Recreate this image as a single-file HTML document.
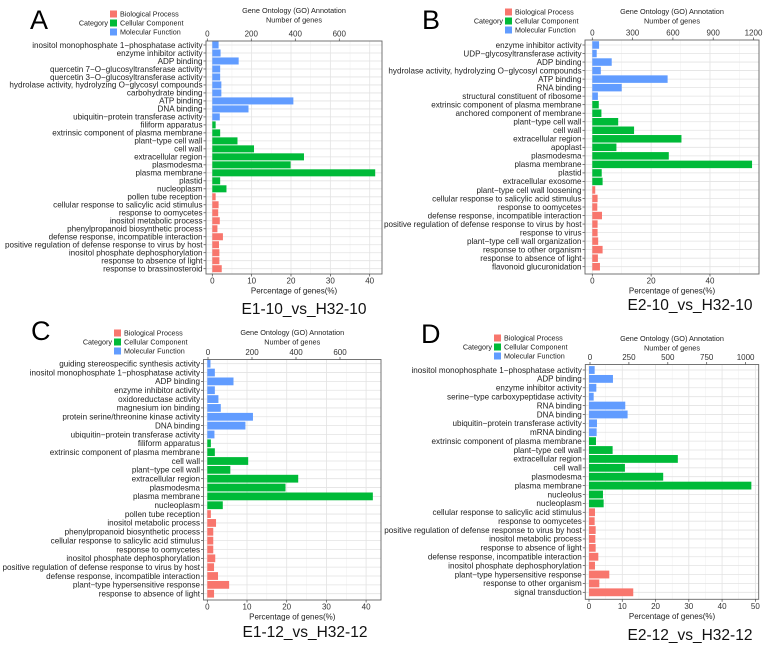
<!DOCTYPE html>
<html><head><meta charset="utf-8">
<style>
html,body{margin:0;padding:0;background:#fff;}
svg{display:block;font-family:"Liberation Sans",Arial,sans-serif;}
</style></head>
<body>
<svg id="fig" width="782" height="649" viewBox="0 0 782 649" xmlns="http://www.w3.org/2000/svg"></svg>
<script>
// ---------- data ----------
const catsA = ["inositol monophosphate 1\u2212phosphatase activity","enzyme inhibitor activity","ADP binding","quercetin 7\u2212O\u2212glucosyltransferase activity","quercetin 3\u2212O\u2212glucosyltransferase activity","hydrolase activity, hydrolyzing O\u2212glycosyl compounds","carbohydrate binding","ATP binding","DNA binding","ubiquitin\u2212protein transferase activity","filiform apparatus","extrinsic component of plasma membrane","plant\u2212type cell wall","cell wall","extracellular region","plasmodesma","plasma membrane","plastid","nucleoplasm","pollen tube reception","cellular response to salicylic acid stimulus","response to oomycetes","inositol metabolic process","phenylpropanoid biosynthetic process","defense response, incompatible interaction","positive regulation of defense response to virus by host","inositol phosphate dephosphorylation","response to absence of light","response to brassinosteroid"];
const valsA = [1.6,2.1,6.7,2,2,2.3,2.3,20.6,9.2,1.9,0.85,2,6.4,10.6,23.3,19.9,41.4,2,3.6,0.85,1.6,1.5,1.9,1.3,2.7,1.7,1.8,1.8,2.4];
const groupA = "MMMMMMMMMMCCCCCCCCCBBBBBBBBBB";

const catsB = ["enzyme inhibitor activity","UDP\u2212glycosyltransferase activity","ADP binding","hydrolase activity, hydrolyzing O\u2212glycosyl compounds","ATP binding","RNA binding","structural constituent of ribosome","extrinsic component of plasma membrane","anchored component of membrane","plant\u2212type cell wall","cell wall","extracellular region","apoplast","plasmodesma","plasma membrane","plastid","extracellular exosome","plant\u2212type cell wall loosening","cellular response to salicylic acid stimulus","response to oomycetes","defense response, incompatible interaction","positive regulation of defense response to virus by host","response to virus","plant\u2212type cell wall organization","response to other organism","response to absence of light","flavonoid glucuronidation"];
const valsB = [2.3,1.5,6.6,2.9,25.6,10,1.9,2.2,3.1,8.8,14.2,30.3,8.2,26,54.3,3.2,3.5,1,1.8,1.7,3.3,1.8,1.8,2,3.5,1.9,2.6];
const groupB = "MMMMMMMCCCCCCCCCCBBBBBBBBBB";

const catsC = ["guiding stereospecific synthesis activity","inositol monophosphate 1\u2212phosphatase activity","ADP binding","enzyme inhibitor activity","oxidoreductase activity","magnesium ion binding","protein serine/threonine kinase activity","DNA binding","ubiquitin\u2212protein transferase activity","filiform apparatus","extrinsic component of plasma membrane","cell wall","plant\u2212type cell wall","extracellular region","plasmodesma","plasma membrane","nucleoplasm","pollen tube reception","inositol metabolic process","phenylpropanoid biosynthetic process","cellular response to salicylic acid stimulus","response to oomycetes","inositol phosphate dephosphorylation","positive regulation of defense response to virus by host","defense response, incompatible interaction","plant\u2212type hypersensitive response","response to absence of light"];
const valsC = [0.8,1.9,6.6,1.9,2.8,3.4,11.5,9.6,1.8,0.9,1.9,10.3,5.8,22.9,19.7,41.7,3.9,0.9,2.2,1.5,1.5,1.5,2,1.7,2.7,5.5,1.7];
const groupC = "MMMMMMMMMCCCCCCCCBBBBBBBBBB";

const catsD = ["inositol monophosphate 1\u2212phosphatase activity","ADP binding","enzyme inhibitor activity","serine\u2212type carboxypeptidase activity","RNA binding","DNA binding","ubiquitin\u2212protein transferase activity","mRNA binding","extrinsic component of plasma membrane","plant\u2212type cell wall","extracellular region","cell wall","plasmodesma","plasma membrane","nucleolus","nucleoplasm","cellular response to salicylic acid stimulus","response to oomycetes","positive regulation of defense response to virus by host","inositol metabolic process","response to absence of light","defense response, incompatible interaction","inositol phosphate dephosphorylation","plant\u2212type hypersensitive response","response to other organism","signal transduction"];
const valsD = [1.7,7.2,2.2,1.4,10.9,11.6,2.4,2.3,2.1,7.1,26.7,10.8,22.3,48.8,4.2,4.4,1.8,1.7,2,1.9,2,2.8,1.8,6.1,3.1,13.3];
const groupD = "MMMMMMMMCCCCCCCCBBBBBBBBBB";

const ticksA = [0,10,20,30,40];
const ticksB = [0,20,40];
const ticksC = [0,10,20,30,40];
const ticksD = [0,10,20,30,40,50];
const topTicksA = [0,200,400,600];
const topTicksB = [0,300,600,900,1200];
const topTicksC = [0,200,400,600];
const topTicksD = [0,250,500,750,1000];
const legendLabels = ["Biological Process","Cellular Component","Molecular Function"];

// ---------- drawing ----------
const NS = "http://www.w3.org/2000/svg";
const svg = document.getElementById('fig');
const COL = {B:"#F8766D", C:"#00BA38", M:"#619CFF"};
function mk(tag, attrs, parent, text){
  const e = document.createElementNS(NS, tag);
  for (const k in attrs) e.setAttribute(k, attrs[k]);
  if (text !== undefined) e.textContent = text;
  (parent || svg).appendChild(e);
  return e;
}

function panel(p){
  const g = mk('g', {});
  
  
  const x = v => p.x0 + v * p.per10 / 10;
  const xt = v => p.top0 + v * p.topK;
  const n = p.cats.length;
  const step = (p.rowLast - p.rowFirst) / (n - 1);
  const y = i => p.rowFirst + i * step;

  const grid = mk('g', {}, g);
  
  
  const tstep = p.ticks[1] - p.ticks[0];
  for (let v = 0; x(v) < p.r; v += tstep/2) {
    mk('line', {x1:x(v), x2:x(v), y1:p.t, y2:p.b, stroke: (v % tstep === 0) ? "#e3e3e3" : "#efefef", 'stroke-width': (v % tstep === 0) ? 0.8 : 0.5}, grid);
  }
  for (let i = 0; i < n; i++) mk('line', {x1:p.l, x2:p.r, y1:y(i), y2:y(i), stroke:"#e3e3e3", 'stroke-width':0.8}, grid);

  for (let i = 0; i < n; i++) {
    const c = p.group[i];
    const bh = step * 0.88;
    const bar = mk('rect', {x:x(0), y:y(i)-bh/2, width:Math.max(0, x(p.vals[i]) - x(0)), height:bh, fill:COL[c]}, g);
    
    
    mk('line', {x1:p.l-2.5, x2:p.l, y1:y(i), y2:y(i), stroke:"#444", 'stroke-width':0.7}, g);
    const lab = mk('text', {x:p.l-3.5, y:y(i)+2.8, 'text-anchor':'end', 'font-size':8.1, fill:"#222"}, g, p.cats[i]);
    
    
  }
  mk('rect', {x:p.l, y:p.t, width:p.r-p.l, height:p.b-p.t, fill:'none', stroke:'#666', 'stroke-width':0.9}, g);

  for (const v of p.ticks) {
    mk('line', {x1:x(v), x2:x(v), y1:p.b, y2:p.b+2.5, stroke:"#444", 'stroke-width':0.7}, g);
    const t = mk('text', {x:x(v), y:p.b+9.5, 'text-anchor':'middle', 'font-size':8, fill:"#333"}, g, String(v));
    
    
  }
  for (const v of p.topTicks) {
    mk('line', {x1:xt(v), x2:xt(v), y1:p.t-2.5, y2:p.t, stroke:"#444", 'stroke-width':0.7}, g);
    const t = mk('text', {x:xt(v), y:p.t-4.5, 'text-anchor':'middle', 'font-size':8, fill:"#333"}, g, String(v));
    
    
  }
  const cx = (p.l + p.r) / 2;
  const xt1 = mk('text', {x:cx, y:p.b+19.5, 'text-anchor':'middle', 'font-size':8, fill:"#222"}, g, "Percentage of genes(%)");
  
  
  const tt1 = mk('text', {x:cx, y:p.titleY, 'text-anchor':'middle', 'font-size':7.3, fill:"#222"}, g, "Gene Ontology (GO) Annotation");
  
  
  const tt2 = mk('text', {x:cx, y:p.titleY+9.5, 'text-anchor':'middle', 'font-size':7.3, fill:"#222"}, g, "Number of genes");
  
  

  const lg = mk('g', {}, g);
  
  
  const keys = ["B","C","M"];
  for (let k = 0; k < 3; k++) {
    const ly = p.legY + k * 9;
    mk('rect', {x:p.legX, y:ly-3.5, width:7, height:7, fill:COL[keys[k]]}, lg);
    const lt = mk('text', {x:p.legX+10, y:ly+2.5, 'font-size':7.2, fill:"#222"}, lg, legendLabels[k]);
    
    
  }
  mk('text', {x:p.legX-2, y:p.legY+11.5, 'text-anchor':'end', 'font-size':7.2, fill:"#222"}, lg, "Category");

  const L = mk('text', {x:p.letX, y:p.letY, 'font-size':27, fill:"#000"}, g, p.id);
  
  
  const C = mk('text', {x:p.cmpX, y:p.cmpY, 'text-anchor':'middle', 'font-size':15.5, fill:"#111"}, g, p.cmp);
  
  
}

panel({id:"A", cats:catsA, vals:valsA, group:groupA, ticks:ticksA, topTicks:topTicksA,
  l:206, r:382, t:41, b:274, x0:212.3, per10:39.35, top0:207.3, topK:44/200,
  rowFirst:45, rowLast:268.7, titleY:13, legX:110, legY:14, letX:30, letY:29,
  cmp:"E1-10_vs_H32-10", cmpX:304, cmpY:314});
panel({id:"B", cats:catsB, vals:valsB, group:groupB, ticks:ticksB, topTicks:topTicksB,
  l:585, r:759, t:40, b:274, x0:592.3, per10:29.42, top0:592.3, topK:40.3/300,
  rowFirst:45, rowLast:266.7, titleY:14, legX:505, legY:12, letX:422, letY:29,
  cmp:"E2-10_vs_H32-10", cmpX:690, cmpY:310});
panel({id:"C", cats:catsC, vals:valsC, group:groupC, ticks:ticksC, topTicks:topTicksC,
  l:203.5, r:381, t:359.5, b:600, x0:207.3, per10:39.7, top0:208, topK:44/200,
  rowFirst:363.7, rowLast:593.7, titleY:335, legX:114, legY:333, letX:31, letY:340,
  cmp:"E1-12_vs_H32-12", cmpX:305, cmpY:637});
panel({id:"D", cats:catsD, vals:valsD, group:groupD, ticks:ticksD, topTicks:topTicksD,
  l:585.3, r:758.7, t:364.5, b:599.3, x0:589, per10:33.27, top0:590, topK:38.9/250,
  rowFirst:370, rowLast:592.3, titleY:341, legX:494, legY:338, letX:421, letY:343,
  cmp:"E2-12_vs_H32-12", cmpX:690, cmpY:640});
</script>
</body></html>
